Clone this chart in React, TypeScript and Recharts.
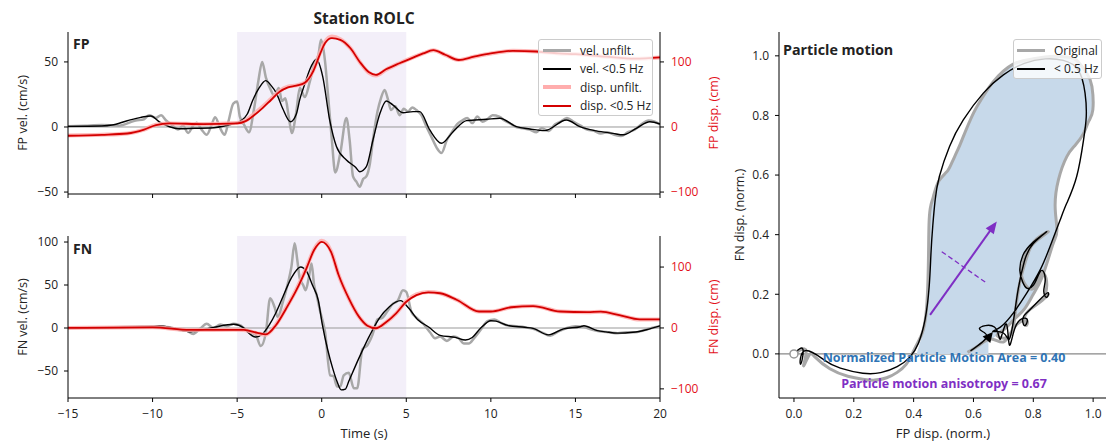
import React from 'react';
import { LineChart, Line, XAxis, YAxis, ReferenceArea, ReferenceLine, ScatterChart, Scatter } from 'recharts';

// ---------- data ----------
const TIME_TICKS = [-15, -10, -5, 0, 5, 10, 15, 20];
const FP_VEL_TICKS = [-50, 0, 50];
const FN_VEL_TICKS = [-50, 0, 50, 100];
const DISP_TICKS = [-100, 0, 100];
const NORM_TICKS = [0, 0.2, 0.4, 0.6, 0.8, 1.0];

// [time (s), value]
const FP_VEL_FILT: [number, number][] = [
  [-15, 0.5], [-13, 0.8], [-12.4, 1.5], [-11.5, 4.8], [-10.7, 7.4], [-10.1, 8.5], [-9.6, 4], [-9.0, 0.2], [-8.4, -1.3],
  [-7.5, -1], [-6.6, -0.8], [-5.5, 1.5], [-5, 3.3], [-4.75, 4.9], [-4.4, 10], [-4.07, 20.8], [-3.7, 30], [-3.31, 35.6],
  [-3, 32], [-2.68, 26], [-2.3, 14], [-1.85, 4], [-1.5, 10], [-1.3, 21], [-1, 33], [-0.71, 44], [-0.31, 52], [0.06, 38.7],
  [0.47, 5.4], [0.87, -15], [1.46, -25.4], [2.0, -31], [2.25, -34.4], [2.64, -30.5], [3.03, -10], [3.43, 10], [3.82, 20],
  [4.2, 17], [4.8, 11], [5.4, 11.8], [5.8, 11.8], [6.39, -2.3], [7.08, -12.5], [7.77, -3.6], [8.56, 4.9], [9.74, 5.9],
  [10.53, 6.7], [11.5, 0.3], [12.3, -1.5], [13.19, -2.8], [14.47, 5.4], [15.26, 0.3], [16.24, -3], [17.23, -4.9],
  [17.82, -6], [18.6, -1], [19.4, 4], [20, 2.3],
];
const FP_VEL_UNFILT: [number, number][] = [
  [-15, 0.5], [-14, 1], [-13, 1.5], [-12, 1], [-11, 5], [-10.5, 6], [-10.2, 9], [-9.8, 7], [-9.5, 9], [-9.2, 5], [-8.8, 1],
  [-8.5, -2], [-8.2, 1], [-7.9, -4.6], [-7.6, 1], [-7.4, 3.3], [-7.1, -2], [-6.8, -6], [-6.5, 2], [-6.3, 7.5], [-6.0, -1],
  [-5.74, -6], [-5.5, 5], [-5.23, 18], [-5.0, 19.5], [-4.84, 8], [-4.6, 2], [-4.3, -4], [-4.0, 14], [-3.75, 35], [-3.52, 50],
  [-3.3, 38], [-3.03, 29], [-2.8, 24], [-2.54, 30], [-2.35, 20], [-2.15, 22], [-1.95, 8], [-1.77, -4.6], [-1.5, 12],
  [-1.3, 30], [-1.0, 23], [-0.7, 35], [-0.43, 49], [-0.2, 55], [-0.04, 67], [0.2, 50], [0.37, 25], [0.6, -10], [0.8, -35],
  [1.1, -20], [1.46, 7], [1.65, -10], [1.85, -38], [2.05, -42], [2.25, -46], [2.45, -40], [2.64, -38], [2.85, -28],
  [3.03, -10], [3.3, 12], [3.5, 22], [3.72, 28.5], [3.9, 22], [4.1, 13], [4.35, 16], [4.6, 9], [4.85, 14], [5.1, 11.8],
  [5.35, 15], [5.6, 13], [5.9, 9], [6.2, 0], [6.5, -8], [6.8, -16], [7.08, -20], [7.4, -10], [7.7, -4], [8.0, 2], [8.3, 5],
  [8.6, 7], [8.9, 3], [9.2, 8], [9.5, 4], [9.8, 6], [10.1, 9], [10.5, 8], [10.8, 5], [11.1, 3], [11.5, 0], [11.9, -1],
  [12.3, -2], [12.7, -4], [13.0, -1], [13.4, -3], [13.8, 2], [14.1, 4], [14.5, 7], [14.9, 4], [15.3, 1], [15.7, -2],
  [16.1, -3], [16.5, -5], [16.9, -4], [17.3, -6], [17.7, -7], [18.1, -4], [18.5, -2], [18.9, 2], [19.3, 5], [19.7, 4], [20, 2],
];
const FP_DISP_FILT: [number, number][] = [
  [-15, -13.5], [-13, -12], [-11.5, -10], [-10.5, -4], [-9.8, 3], [-9, 5.5], [-7, 4.5], [-5, 5.6], [-4.5, 9], [-4, 18],
  [-3.5, 29], [-3, 41.5], [-2.5, 54], [-2, 61], [-1.5, 63.5], [-1, 68], [-0.5, 86], [-0.1, 112], [0.2, 129], [0.6, 136.5],
  [1.1, 134], [1.7, 121], [2.25, 100], [2.8, 84], [3.2, 80], [3.8, 88.7], [4.6, 98], [5.4, 106.7], [6.0, 113], [6.6, 118],
  [7.3, 111], [8.1, 103], [9, 108], [10, 113], [11.3, 117], [12.7, 116], [14, 113], [15, 112], [16.8, 108], [18.5, 105], [20, 107],
];
const FP_DISP_UNFILT: [number, number][] = [
  [-15, -13], [-13, -12], [-11.5, -10], [-10.5, -4], [-9.8, 3.5], [-9, 5.5], [-7, 4.5], [-5, 6], [-4.5, 10], [-4, 20],
  [-3.5, 31], [-3, 43], [-2.5, 55], [-2, 62], [-1.5, 64], [-1, 68], [-0.5, 87], [-0.1, 114], [0.2, 131], [0.6, 139],
  [1.1, 135], [1.7, 121], [2.25, 100], [2.8, 83], [3.2, 79], [3.8, 88], [4.6, 98], [5.4, 107], [6.0, 113], [6.6, 118],
  [7.3, 111], [8.1, 103], [9, 108], [10, 113], [11.3, 117], [12.7, 116], [14, 113], [15, 112], [16.8, 108], [18.5, 105], [20, 107],
];

const FN_VEL_FILT: [number, number][] = [
  [-15, 0], [-12, 0.5], [-10, 1.6], [-9.6, 2.3], [-8.8, 0], [-7.8, -4.3], [-6.4, 0.8], [-5.2, 4.3], [-4.6, 0], [-4.4, -4.3],
  [-3.9, -10.5], [-3.5, -7], [-3.1, 3.5], [-2.7, 18], [-2.3, 36], [-1.8, 58], [-1.25, 71], [-0.9, 66], [-0.55, 50],
  [-0.2, 32], [0.04, 3.5], [0.35, -25], [0.65, -47], [0.9, -62], [1.15, -72], [1.4, -71], [1.6, -62], [2.2, -35],
  [2.8, -10], [3.4, 11.3], [4.0, 24.8], [4.66, 31.8], [5.15, 22.9], [5.7, 9.3], [6.3, 1.5], [7.0, -8.5], [7.9, -10.9],
  [8.5, -14], [8.9, -11], [9.4, 0], [10.0, 8.5], [10.3, 8], [11.0, 3], [12.0, 0.8], [12.5, -0.4], [13.4, -8], [14.3, -1],
  [15.3, 1.5], [15.5, 2.7], [16.3, -3], [16.8, -4.5], [17.5, -6], [18.4, -5], [19.2, -2], [20, 2.5],
];
const FN_VEL_UNFILT: [number, number][] = [
  [-15, 0], [-13, 0.5], [-11, 1.5], [-10, 2], [-9, 1], [-8.5, -2], [-8, -3], [-7.6, -7], [-7.2, -1], [-6.8, 5], [-6.4, 0],
  [-6, 4], [-5.6, 2], [-5.2, 5], [-4.8, 3], [-4.5, -2], [-4.2, -5], [-3.9, -8], [-3.6, -21], [-3.3, -5], [-3.05, 34.5],
  [-2.8, 25], [-2.6, 13], [-2.3, 30], [-2.0, 52], [-1.8, 70], [-1.6, 98.5], [-1.45, 80], [-1.3, 58], [-1.1, 50], [-0.95, 44],
  [-0.75, 60], [-0.6, 75], [-0.45, 50], [-0.3, 38], [-0.1, 20], [0.2, -5], [0.5, -55], [0.7, -56], [0.9, -68], [1.1, -68],
  [1.3, -55], [1.6, -52], [1.9, -70], [2.1, -70], [2.4, -25], [2.7, -20], [3.0, -8], [3.3, 10], [3.6, 12], [3.9, 20],
  [4.2, 28], [4.5, 32], [4.8, 44], [5.0, 42], [5.3, 19], [5.6, 12], [6.0, 5], [6.4, -5], [6.7, -12], [7.0, -10], [7.4, -15],
  [7.8, -10], [8.1, -12], [8.4, -18], [8.7, -18], [9.0, -12], [9.4, -2], [9.8, 8], [10.2, 10], [10.6, 6], [11.0, 3],
  [11.5, 2], [12, 1], [12.5, -1], [13, -5], [13.5, -9], [14, -4], [14.5, 0], [15, 2], [15.5, 1], [16, -2], [16.5, -4],
  [17, -5], [17.5, -6], [18, -5], [18.5, -5], [19, -3], [19.5, 0], [20, 2],
];
const FN_DISP_FILT: [number, number][] = [
  [-15, 0], [-10, 1], [-7.8, -3.3], [-5.2, -3], [-4.6, -3.3], [-3.8, -8], [-3.3, -10.4], [-2.7, 4.9], [-2.1, 32], [-1.5, 62],
  [-0.9, 98], [-0.45, 128], [0, 141.5], [0.55, 125], [1.0, 87], [1.6, 48.6], [2.2, 18.6], [2.7, 3.8], [3.2, -0.5],
  [3.8, 9.3], [4.4, 24], [5.0, 43], [5.6, 54], [6.3, 58.5], [7, 57], [8, 46], [9.3, 27], [10, 27], [11.2, 34], [12.5, 36],
  [14.1, 27], [15.7, 26], [16.5, 26.8], [17.6, 21], [18.8, 14], [20, 14],
];
const FN_DISP_UNFILT: [number, number][] = [
  [-15, 0], [-10, 1], [-7.8, -3.3], [-5.2, -3], [-4.6, -3.5], [-3.8, -9], [-3.3, -11], [-2.7, 5.5], [-2.1, 33], [-1.5, 63],
  [-0.9, 99], [-0.45, 129], [0, 143], [0.55, 126], [1.0, 87], [1.6, 48.6], [2.2, 18.6], [2.7, 3.8], [3.2, -0.5],
  [3.8, 9.3], [4.4, 24], [5.0, 44], [5.6, 55], [6.3, 59], [7, 57], [8, 46], [9.3, 27], [10, 27], [11.2, 34], [12.5, 36],
  [14.1, 27], [15.7, 26], [16.5, 26.8], [17.6, 21], [18.8, 14], [20, 14],
];

// particle motion, [FP norm, FN norm]
const PM_ORIGINAL: [number, number][] = [
  [0, 0], [0.04, 0.012], [0.032, -0.04], [0.05, -0.005], [0.07, -0.01], [0.12, -0.05], [0.18, -0.075], [0.23, -0.085],
  [0.27, -0.088], [0.31, -0.08], [0.345, -0.062], [0.375, -0.035], [0.395, 0.0], [0.415, 0.04], [0.432, 0.08], [0.443, 0.15],
  [0.448, 0.25], [0.45, 0.35], [0.452, 0.45], [0.458, 0.5], [0.466, 0.528], [0.483, 0.578], [0.51, 0.61], [0.527, 0.64],
  [0.55, 0.69], [0.566, 0.729], [0.6, 0.808], [0.63, 0.86], [0.667, 0.914], [0.733, 0.972], [0.8, 0.99], [0.856, 0.998],
  [0.92, 0.995], [0.95, 0.98], [0.98, 0.94], [0.996, 0.897], [0.999, 0.819], [0.985, 0.78], [0.968, 0.74], [0.94, 0.7],
  [0.912, 0.662], [0.884, 0.584], [0.873, 0.494], [0.879, 0.416], [0.87, 0.38], [0.856, 0.338], [0.828, 0.254], [0.8, 0.2],
  [0.77, 0.15], [0.74, 0.12], [0.7, 0.08], [0.68, 0.06], [0.72, 0.06], [0.74, 0.14], [0.755, 0.24], [0.78, 0.33],
  [0.81, 0.385], [0.85, 0.41], [0.8, 0.37], [0.77, 0.32], [0.76, 0.27], [0.775, 0.23], [0.8, 0.22], [0.82, 0.26],
  [0.835, 0.27], [0.845, 0.23], [0.84, 0.19], [0.85, 0.2], [0.83, 0.18], [0.79, 0.15], [0.77, 0.12], [0.775, 0.095],
  [0.78, 0.11], [0.76, 0.11], [0.73, 0.08], [0.7, 0.04], [0.66, 0.05], [0.62, 0.03], [0.58, 0.005],
];
const PM_FILTERED: [number, number][] = [
  [0.0, 0.0], [0.03, 0.015], [0.022, -0.035], [0.035, 0.01], [0.1, -0.02], [0.155, -0.048], [0.23, -0.065], [0.29, -0.063],
  [0.345, -0.043], [0.388, -0.01], [0.416, 0.036], [0.438, 0.114], [0.452, 0.226], [0.458, 0.338], [0.464, 0.43],
  [0.472, 0.517], [0.486, 0.595], [0.52, 0.696], [0.566, 0.785], [0.633, 0.875], [0.7, 0.936], [0.77, 0.975],
  [0.84, 0.99], [0.9, 0.985], [0.95, 0.953], [0.973, 0.875], [0.977, 0.796], [0.968, 0.718], [0.945, 0.595],
  [0.912, 0.506], [0.89, 0.45], [0.856, 0.36], [0.823, 0.282], [0.778, 0.204], [0.733, 0.137], [0.69, 0.09],
  [0.665, 0.075], [0.7, 0.07], [0.72, 0.05], [0.735, 0.12], [0.75, 0.22], [0.77, 0.31], [0.8, 0.37], [0.845, 0.41],
  [0.8, 0.375], [0.765, 0.33], [0.755, 0.28], [0.765, 0.24], [0.78, 0.22], [0.8, 0.23], [0.815, 0.26], [0.83, 0.28],
  [0.84, 0.25], [0.835, 0.21], [0.845, 0.19], [0.85, 0.205], [0.83, 0.19], [0.8, 0.16], [0.78, 0.14], [0.765, 0.12],
  [0.77, 0.095], [0.78, 0.11], [0.77, 0.12], [0.74, 0.09], [0.72, 0.03], [0.71, 0.1], [0.69, 0.05], [0.67, 0.09],
  [0.62, 0.085], [0.645, 0.06], [0.59, 0.01],
];
const PM_AREA: [number, number][] = [
  [0.41, 0], [0.425, 0.05], [0.436, 0.1], [0.443, 0.15], [0.448, 0.25], [0.45, 0.35], [0.452, 0.45], [0.458, 0.5],
  [0.466, 0.528], [0.483, 0.578], [0.51, 0.61], [0.527, 0.64], [0.55, 0.69], [0.566, 0.729], [0.6, 0.808], [0.63, 0.86],
  [0.667, 0.914], [0.733, 0.972], [0.8, 0.99], [0.856, 0.998], [0.92, 0.995], [0.95, 0.98], [0.98, 0.94], [0.996, 0.897],
  [0.999, 0.819], [0.985, 0.78], [0.968, 0.74], [0.94, 0.7], [0.912, 0.662], [0.884, 0.584], [0.873, 0.494], [0.879, 0.416],
  [0.87, 0.38], [0.856, 0.338], [0.828, 0.254], [0.8, 0.2], [0.77, 0.15], [0.74, 0.12], [0.7, 0.08], [0.65, 0.04], [0.65, 0],
];
const PM_START: [number, number][] = [[0, 0]];
const PM_END: [number, number][] = [[0.652, 0.058]];
const PM_MAJOR_AXIS: [number, number][] = [[0.455, 0.131], [0.672, 0.436]];
const PM_ARROW_HEAD: [number, number][] = [[0.678, 0.444]];
const PM_MINOR_AXIS: [number, number][] = [[0.494, 0.343], [0.642, 0.239]];

const NPMA_TEXT = 'Normalized Particle Motion Area = 0.40';
const ANISO_TEXT = 'Particle motion anisotropy = 0.67';

// ---------- styling ----------
const FONT = '"Open Sans", "Noto Sans", "DejaVu Sans", sans-serif';
const RED = '#d40000';
const RED_TXT = '#e3121b';
const PINK = '#ffadad';
const GRAY = '#a8a8a8';
const SHADE = '#f3eff9';
const PM_FILL = '#c7d9ea';
const PURPLE = '#7f2fc4';
const BLUE_TXT = '#2f74b5';

const toTV = (a: [number, number][]) => a.map(([t, v]) => ({ t, v }));
const toXY = (a: [number, number][]) => a.map(([x, y]) => ({ x, y }));
const minus = (s: string) => s.replace('-', '\u2212');
const fmtInt = (v: number) => minus(String(v));
const fmt1 = (v: number) => minus(v.toFixed(1));

const tickStyle = { fontSize: 12, fill: '#222', fontFamily: FONT };
const redTick = { fontSize: 12, fill: RED_TXT, fontFamily: FONT };

const NoShape = () => <g />;

const fillPolygon = (props: any) => {
  const pts = props.points || [];
  if (!pts.length) return <g />;
  const d = 'M' + pts.map((p: any) => `${p.x},${p.y}`).join('L') + 'Z';
  return <path d={d} fill={PM_FILL} stroke="none" />;
};

const StartMarker = (p: any) => (
  <circle cx={p.cx} cy={p.cy} r={4} fill="#fff" stroke="#999" strokeWidth={1.5} />
);
const EndMarker = (p: any) => (
  <polygon points="0,-6 5,4 -5,4" transform={`translate(${p.cx},${p.cy}) rotate(40)`} fill="#000" />
);
const ArrowHead = (p: any) => (
  <polygon points="0,0 -12,-5 -12,5" transform={`translate(${p.cx},${p.cy}) rotate(-54)`} fill={PURPLE} />
);

const VLabel = ({ x, y, text, color = '#222' }: { x: number; y: number; text: string; color?: string }) => (
  <div style={{ position: 'absolute', left: x, top: y, transform: 'translate(-50%,-50%) rotate(-90deg)', whiteSpace: 'nowrap', fontFamily: FONT, fontSize: 12.5, color }}>
    {text}
  </div>
);
const Txt = ({ x, y, text, size = 13, bold = false, color = '#222', center = false }: any) => (
  <div style={{ position: 'absolute', left: x, top: y, transform: center ? 'translate(-50%,-50%)' : 'translate(0,-50%)', whiteSpace: 'nowrap', fontFamily: FONT, fontSize: size, fontWeight: bold ? 700 : 400, color }}>
    {text}
  </div>
);

const LegendRow = ({ color, width, label }: { color: string; width: number; label: string }) => (
  <div style={{ display: 'flex', alignItems: 'center', height: 18.5 }}>
    <div style={{ width: 28, height: width, background: color, marginRight: 9 }} />
    <span style={{ fontFamily: FONT, fontSize: 12, color: '#222' }}>{label}</span>
  </div>
);

function TimePanel({ top, height, velDomain, velTicks, dispDomain, velFilt, velUnfilt, dispFilt, dispUnfilt, showTimeLabels, mTop, mBottom, xh }: any) {
  return (
    <div style={{ position: 'absolute', left: 0, top }}>
      <LineChart width={730} height={height} margin={{ top: mTop, left: 8, right: 10, bottom: mBottom }}>
        <XAxis xAxisId="b" type="number" dataKey="t" domain={[-15, 20]} ticks={TIME_TICKS} allowDataOverflow
          tickFormatter={showTimeLabels ? fmtInt : () => ''} height={xh} tickSize={4} tickMargin={7}
          stroke="#000" tick={tickStyle} />
        <XAxis xAxisId="top" orientation="top" type="number" dataKey="t" domain={[-15, 20]} ticks={[]} height={0}
          tick={false} tickLine={false} stroke="#000" />
        <YAxis yAxisId="l" type="number" domain={velDomain} ticks={velTicks} allowDataOverflow width={60}
          tickSize={4} tickMargin={6} stroke="#000" tick={tickStyle} tickFormatter={fmtInt} />
        <YAxis yAxisId="r" orientation="right" type="number" domain={dispDomain} ticks={DISP_TICKS} allowDataOverflow width={60}
          tickSize={4} tickMargin={7} stroke="#000" tick={redTick} tickFormatter={fmtInt} />
        <ReferenceArea xAxisId="b" yAxisId="l" x1={-5} x2={5} fill={SHADE} fillOpacity={1} stroke="none" ifOverflow="hidden" />
        <ReferenceLine xAxisId="b" yAxisId="l" y={0} stroke="#999" strokeWidth={1} />
        <Line xAxisId="b" yAxisId="l" data={toTV(velUnfilt)} dataKey="v" type="monotone" stroke={GRAY} strokeWidth={2.5} dot={false} isAnimationActive={false} />
        <Line xAxisId="b" yAxisId="l" data={toTV(velFilt)} dataKey="v" type="monotone" stroke="#000" strokeWidth={1.4} dot={false} isAnimationActive={false} />
        <Line xAxisId="b" yAxisId="r" data={toTV(dispUnfilt)} dataKey="v" type="monotone" stroke={PINK} strokeWidth={4} strokeOpacity={0.85} dot={false} isAnimationActive={false} />
        <Line xAxisId="b" yAxisId="r" data={toTV(dispFilt)} dataKey="v" type="monotone" stroke={RED} strokeWidth={1.8} dot={false} isAnimationActive={false} />
      </LineChart>
    </div>
  );
}

export default function App() {
  return (
    <div style={{ position: 'absolute', left: 0, top: 0, width: 1108, height: 448, background: '#fff', overflow: 'hidden' }}>
      {/* FP panel: plot 68..660 x 32..194 */}
      <TimePanel top={0} height={210} velDomain={[-51.5, 73]} velTicks={FP_VEL_TICKS} dispDomain={[-103, 146]}
        velFilt={FP_VEL_FILT} velUnfilt={FP_VEL_UNFILT} dispFilt={FP_DISP_FILT} dispUnfilt={FP_DISP_UNFILT}
        showTimeLabels={false} mTop={32} mBottom={6} xh={10} />
      {/* FN panel: plot 68..660 x 236..398 */}
      <TimePanel top={210} height={238} velDomain={[-81.4, 107]} velTicks={FN_VEL_TICKS} dispDomain={[-115, 151]}
        velFilt={FN_VEL_FILT} velUnfilt={FN_VEL_UNFILT} dispFilt={FN_DISP_FILT} dispUnfilt={FN_DISP_UNFILT}
        showTimeLabels={true} mTop={26} mBottom={20} xh={30} />

      {/* particle motion: plot 779..1106 x 32..398 */}
      <div style={{ position: 'absolute', left: 730, top: 0 }}>
        <ScatterChart width={378} height={448} margin={{ top: 32, left: 9, right: 2, bottom: 20 }}>
          <XAxis type="number" dataKey="x" domain={[-0.05, 1.043]} ticks={NORM_TICKS} allowDataOverflow height={30}
            tickSize={4} tickMargin={7} stroke="#000" tick={tickStyle} tickFormatter={fmt1} />
          <XAxis xAxisId="top" orientation="top" type="number" dataKey="x" domain={[-0.05, 1.043]} ticks={[]} height={0}
            tick={false} tickLine={false} stroke="#000" />
          <YAxis type="number" dataKey="y" domain={[-0.148, 1.08]} ticks={NORM_TICKS} allowDataOverflow width={40}
            tickSize={4} tickMargin={6} stroke="#000" tick={tickStyle} tickFormatter={fmt1} />
          <YAxis yAxisId="right" orientation="right" type="number" dataKey="y" domain={[-0.148, 1.08]} ticks={[]} width={0}
            tick={false} tickLine={false} stroke="#000" />
          <Scatter data={toXY(PM_AREA)} shape={NoShape} line={fillPolygon} lineType="joint" isAnimationActive={false} />
          <ReferenceLine y={0} stroke="#888" strokeWidth={1.2} />
          <Scatter data={toXY(PM_ORIGINAL)} shape={NoShape} line={{ stroke: GRAY, strokeWidth: 3, fill: 'none' }}
            lineType="joint" lineJointType="natural" isAnimationActive={false} />
          <Scatter data={toXY(PM_FILTERED)} shape={NoShape} line={{ stroke: '#000', strokeWidth: 1.4, fill: 'none' }}
            lineType="joint" lineJointType="natural" isAnimationActive={false} />
          <Scatter data={toXY(PM_MAJOR_AXIS)} shape={NoShape} line={{ stroke: PURPLE, strokeWidth: 2, fill: 'none' }}
            lineType="joint" isAnimationActive={false} />
          <Scatter data={toXY(PM_MINOR_AXIS)} shape={NoShape} line={{ stroke: PURPLE, strokeWidth: 1.3, fill: 'none', strokeDasharray: '5 3' }}
            lineType="joint" isAnimationActive={false} />
          <Scatter data={toXY(PM_ARROW_HEAD)} shape={ArrowHead} isAnimationActive={false} />
          <Scatter data={toXY(PM_START)} shape={StartMarker} isAnimationActive={false} />
          <Scatter data={toXY(PM_END)} shape={EndMarker} isAnimationActive={false} />
        </ScatterChart>
      </div>

      {/* texts */}
      <Txt x={364} y={18} text="Station ROLC" size={15.5} bold center />
      <Txt x={73} y={43} text="FP" size={14} bold />
      <Txt x={73} y={248} text="FN" size={14} bold />
      <Txt x={783} y={49} text="Particle motion" size={14.3} bold />
      <Txt x={364} y={433} text="Time (s)" size={13} center />
      <Txt x={943} y={433} text="FP disp. (norm.)" size={13} center />
      <Txt x={944} y={357} text={NPMA_TEXT} size={12.5} bold color={BLUE_TXT} center />
      <Txt x={944} y={383} text={ANISO_TEXT} size={12.5} bold color={PURPLE} center />
      <VLabel x={22} y={113} text="FP vel. (cm/s)" />
      <VLabel x={22} y={317} text="FN vel. (cm/s)" />
      <VLabel x={713} y={113} text="FP disp. (cm)" color={RED_TXT} />
      <VLabel x={713} y={317} text="FN disp. (cm)" color={RED_TXT} />
      <VLabel x={739} y={215} text="FN disp. (norm.)" />

      {/* legends */}
      <div style={{ position: 'absolute', left: 538, top: 39, width: 115, height: 77, boxSizing: 'border-box', border: '1px solid #ccc', borderRadius: 3, background: 'rgba(255,255,255,0.8)', padding: '1px 0 0 4px' }}>
        <LegendRow color={GRAY} width={3} label="vel. unfilt." />
        <LegendRow color="#000" width={1.5} label="vel. <0.5 Hz" />
        <LegendRow color={PINK} width={4} label="disp. unfilt." />
        <LegendRow color={RED} width={2} label="disp. <0.5 Hz" />
      </div>
      <div style={{ position: 'absolute', left: 1013, top: 39, width: 89, height: 40, boxSizing: 'border-box', border: '1px solid #ccc', borderRadius: 3, background: 'rgba(255,255,255,0.8)', padding: '1px 0 0 3px' }}>
        <LegendRow color={GRAY} width={3} label="Original" />
        <LegendRow color="#000" width={1.5} label="< 0.5 Hz" />
      </div>
    </div>
  );
}
